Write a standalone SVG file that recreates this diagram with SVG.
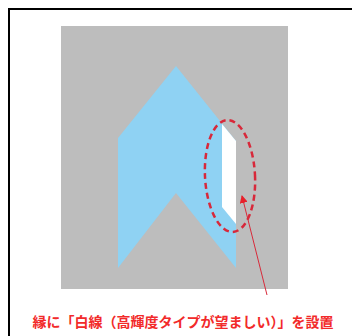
<svg xmlns="http://www.w3.org/2000/svg" width="352" height="336" viewBox="0 0 352 336">
<style>
.lbl{font-family:"Noto Sans CJK JP","Noto Sans CJK SC",sans-serif;font-size:14px;fill:#f22a2a;font-weight:bold}
</style>
<defs>
<marker id="ah" markerWidth="8" markerHeight="8" refX="7" refY="4" orient="auto" markerUnits="userSpaceOnUse">
<path d="M0,0 L8,4 L0,8 z" fill="#e8202a"/>
</marker>
</defs>
<rect width="352" height="336" fill="#ffffff"/>
<path d="M9,336 V9 H352" fill="none" stroke="#000" stroke-width="2"/>
<g id="road">
<rect x="61" y="26" width="227" height="263" fill="#bdbdbd"/>
</g>
<g id="arrow-marking">
<polygon points="176,66 236,141 236,268 176,193 118,268 118,138" fill="#8fd2f3"/>
</g>
<g id="white-line">
<polygon points="222,124 236,141 236,224 222,207" fill="#ffffff"/>
</g>
<g id="highlight">
<ellipse cx="230" cy="176" rx="25" ry="56" transform="rotate(-3 230 176)" fill="none" stroke="#d8283a" stroke-width="2.5" stroke-dasharray="6 4"/>
</g>
<g id="connectors">
<line x1="267" y1="295" x2="242" y2="196" stroke="#d82a3a" stroke-width="1" marker-end="url(#ah)"/>
</g>
<g id="caption">
<text class="lbl" x="183" y="327" text-anchor="middle">縁に「白線（高輝度タイプが望ましい）」を設置</text>
</g>
</svg>
